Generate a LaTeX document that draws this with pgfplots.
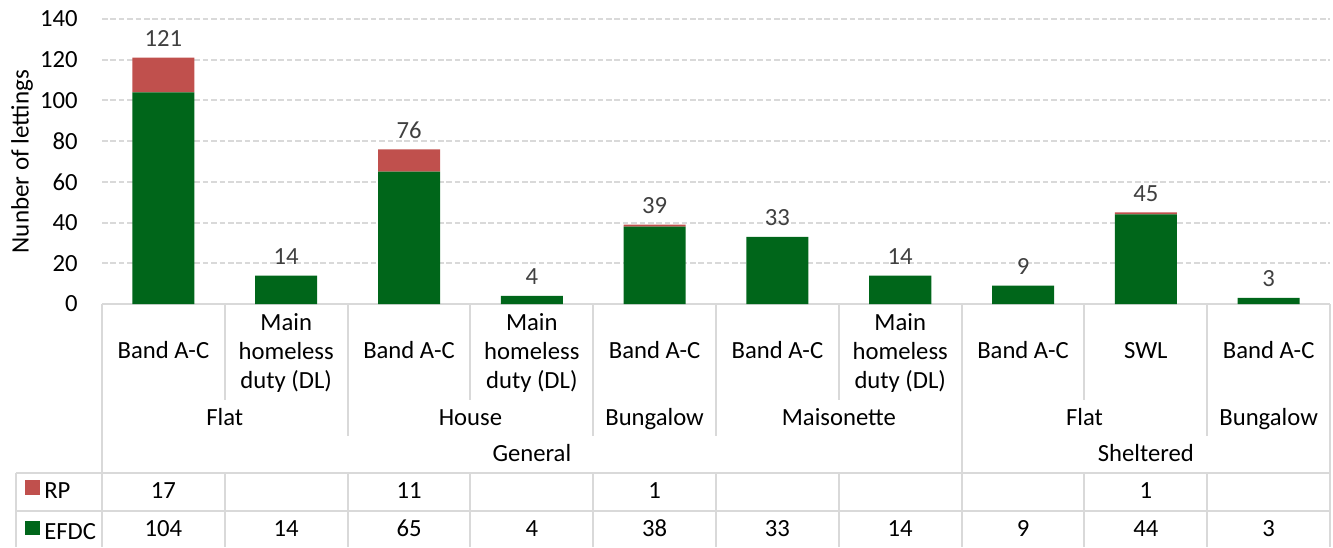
\documentclass[border=0pt]{standalone}
\usepackage{pgfplots}
\pgfplotsset{compat=1.18}
\usepackage{pgfplotstable}
\usepackage{fontspec}
\setmainfont{Carlito}
\definecolor{efdc}{RGB}{0,102,26}
\definecolor{rp}{RGB}{192,80,77}
\definecolor{gridc}{RGB}{217,217,217}
\definecolor{lblc}{RGB}{64,64,64}
\pgfplotstableread{
x efdc rp total
0 104 17 121
1 14 0 14
2 65 11 76
3 4 0 4
4 38 1 39
5 33 0 33
6 14 0 14
7 9 0 9
8 44 1 45
9 3 0 3
}\datatable
\newcommand{\fs}{\fontsize{18.5}{21.75}\selectfont}
\tikzset{tbl/.style={gridc, line width=1.5pt},
  lab/.style={font=\fs, anchor=base, inner sep=0pt}}
\begin{document}
\begin{tikzpicture}
\begin{axis}[
  scale only axis, width=921pt, height=213.75pt,
  xmin=-0.5, xmax=9.5, ymin=0, ymax=140,
  ybar stacked, bar width=0.505,
  clip=false,
  axis line style={draw=none},
  xtick=\empty,
  ytick={0,20,...,140},
  tick style={draw=none},
  ymajorgrids,
  major grid style={gridc, line width=1.5pt, dash pattern=on 4.2pt off 2.1pt},
  /pgf/number format/assume math mode=true,
  yticklabel style={font=\fs, anchor=east, inner sep=0pt, xshift=-18pt},
  reverse legend,
  legend cell align=left,
  legend image code/.code={\fill[#1, draw=none] (0pt,-1.2pt) rectangle (11pt,9.8pt);},
  legend style={draw=none, fill=none, at={(axis cs:-1.127,-102.25)}, anchor=west,
    inner sep=0pt, outer sep=0pt, row sep=12.8pt, column sep=3.5pt,
    nodes={font=\fs, inner sep=0pt, text height=12pt, text depth=4pt}},
]
\addplot[fill=efdc, draw=none] table[x=x, y=efdc]{\datatable};
\addlegendentry{EFDC}
\addplot[fill=rp, draw=none] table[x=x, y=rp]{\datatable};
\addlegendentry{RP}

% table lines
\draw[tbl] (axis cs:-0.5,0) -- (axis cs:9.5,0);
\pgfplotsinvokeforeach{0.5,2.5,5.5,7.5}{\draw[tbl] (axis cs:#1,0) -- (axis cs:#1,-47.16);}
\pgfplotsinvokeforeach{1.5,3.5,4.5,8.5}{\draw[tbl] (axis cs:#1,0) -- (axis cs:#1,-64.84);}
\pgfplotsinvokeforeach{-0.5,6.5,9.5}{\draw[tbl] (axis cs:#1,0) -- (axis cs:#1,-119.4);}
\pgfplotsinvokeforeach{0.5,1.5,2.5,3.5,4.5,5.5,7.5,8.5,-1.2003}{\draw[tbl] (axis cs:#1,-83.02) -- (axis cs:#1,-119.4);}
\draw[tbl] (axis cs:-1.2003,-83.02) -- (axis cs:9.5,-83.02);
\draw[tbl] (axis cs:-1.2003,-101.69) -- (axis cs:9.5,-101.69);

% level 1 categories
\pgfplotsinvokeforeach{0,2,4,5,7,9}{\node[lab] at (axis cs:#1,-26.67) {Band A-C};}
\node[lab] at (axis cs:8,-26.67) {SWL};
\pgfplotsinvokeforeach{1,3,6}{\node[font=\fs, align=center, anchor=center, inner sep=0pt] at (axis cs:#1,-24.2) {Main\\homeless\\duty (DL)};}
% level 2
\node[lab] at (axis cs:0.5,-59.44) {Flat};
\node[lab] at (axis cs:2.5,-59.44) {House};
\node[lab] at (axis cs:4,-59.44) {Bungalow};
\node[lab] at (axis cs:5.5,-59.44) {Maisonette};
\node[lab] at (axis cs:7.5,-59.44) {Flat};
\node[lab] at (axis cs:9,-59.44) {Bungalow};
% level 3
\node[lab] at (axis cs:3,-77.47) {General};
\node[lab] at (axis cs:8,-77.47) {Sheltered};
% data table
\node[lab] at (axis cs:0,-95.45) {17};
\node[lab] at (axis cs:2,-95.45) {11};
\node[lab] at (axis cs:4,-95.45) {1};
\node[lab] at (axis cs:8,-95.45) {1};
\node[lab] at (axis cs:0,-114.3) {104};
\node[lab] at (axis cs:1,-114.3) {14};
\node[lab] at (axis cs:2,-114.3) {65};
\node[lab] at (axis cs:3,-114.3) {4};
\node[lab] at (axis cs:4,-114.3) {38};
\node[lab] at (axis cs:5,-114.3) {33};
\node[lab] at (axis cs:6,-114.3) {14};
\node[lab] at (axis cs:7,-114.3) {9};
\node[lab] at (axis cs:8,-114.3) {44};
\node[lab] at (axis cs:9,-114.3) {3};
% y label
\node[font=\fontsize{18.8}{22}\selectfont, rotate=90, anchor=center] at (axis cs:-1.1515,70) {Nunber of lettings};
\coordinate (bbsw) at (axis cs:-1.3306,-119.37);
\coordinate (bbne) at (axis cs:9.524,149.33);
\end{axis}
% overlay axis for total labels
\begin{axis}[
  scale only axis, width=921pt, height=213.75pt,
  xmin=-0.5, xmax=9.5, ymin=0, ymax=140,
  hide axis, clip=false,
  /pgf/number format/assume math mode=true,
]
\addplot[draw=none, mark=none, nodes near coords, point meta=explicit,
  nodes near coords style={font=\fs, text=lblc, anchor=base, yshift=8.25pt, inner sep=0pt}]
  table[x=x, y=total, meta=total]{\datatable};
\end{axis}
\pgfresetboundingbox
\path[use as bounding box] (bbsw) rectangle (bbne);
\end{tikzpicture}
\end{document}
